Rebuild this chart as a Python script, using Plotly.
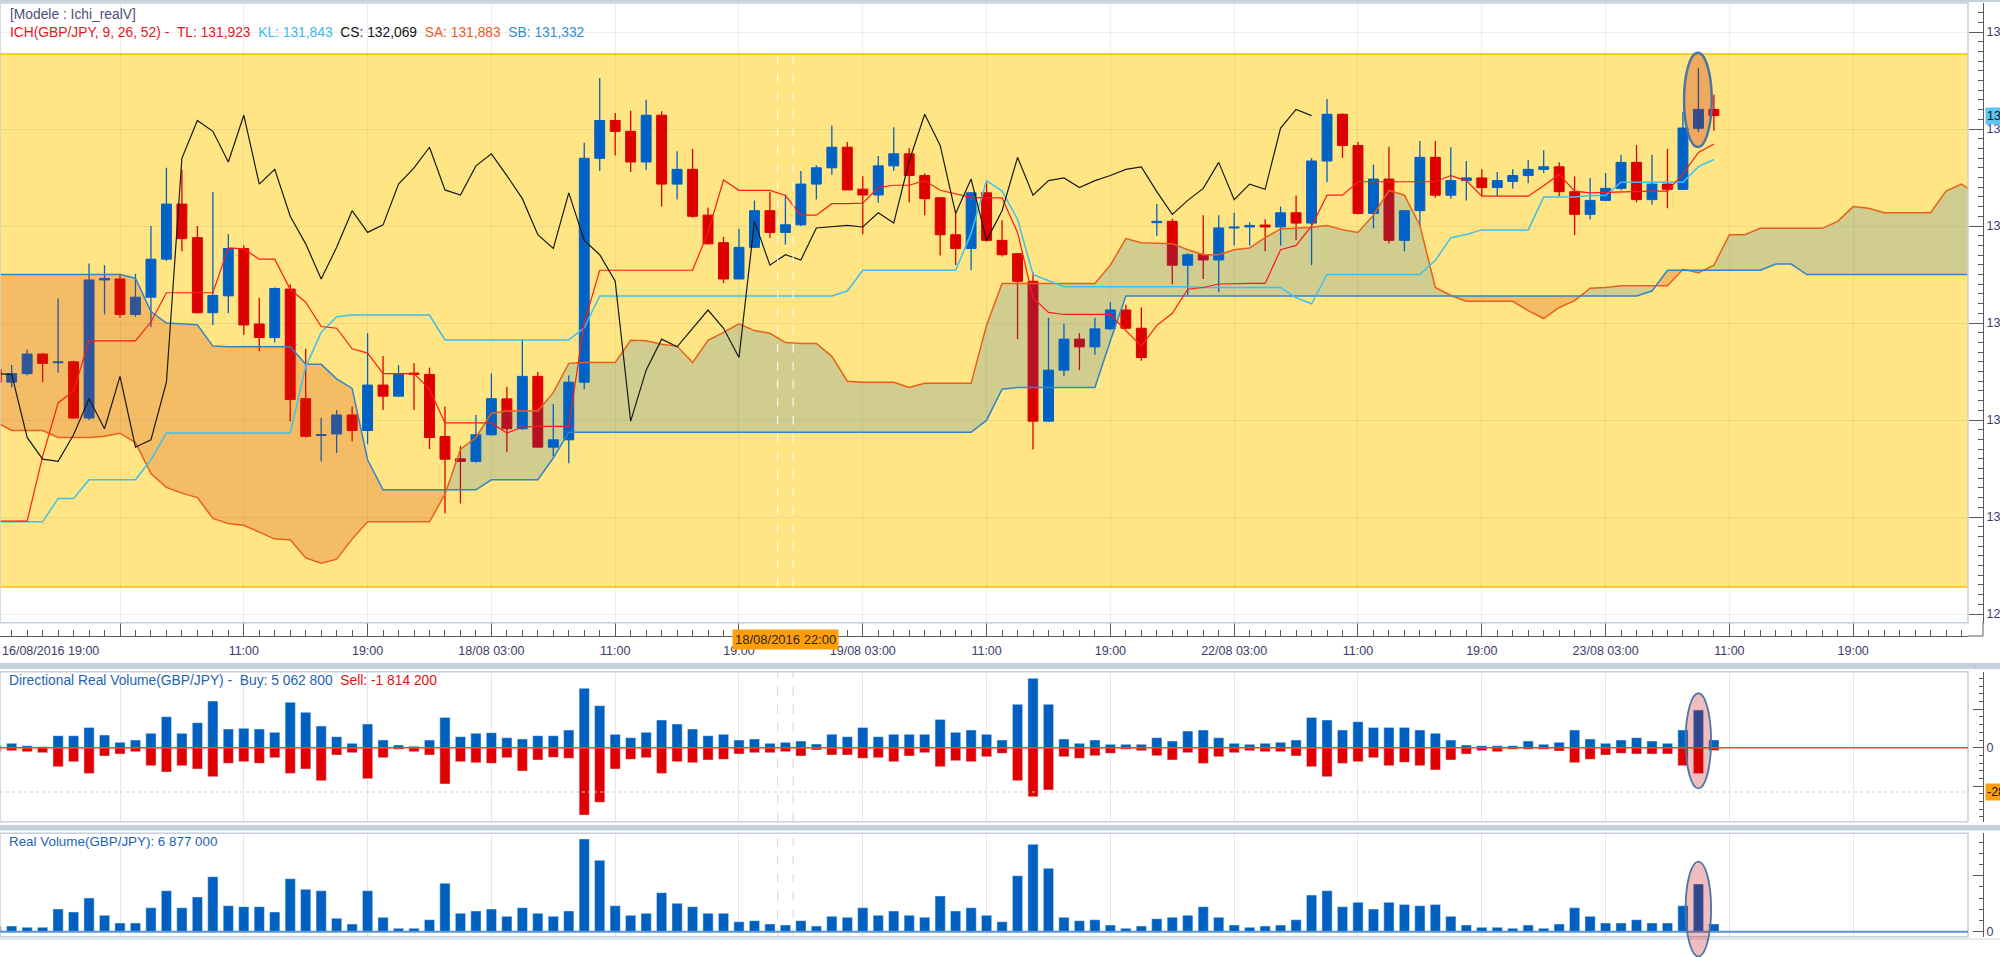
import plotly.graph_objects as go

# GBP/JPY H1 candles, 16/08/2016 19:00 -> 23/08/2016 10:00
opens = [130.760, 130.695, 130.739, 130.840, 130.795, 130.800, 130.510, 131.222, 131.227, 131.044,
         131.133, 131.329, 131.613, 131.440, 131.053, 131.140, 131.384, 130.995, 130.925, 131.175,
         130.610, 130.420, 130.428, 130.526, 130.446, 130.680, 130.623, 130.742, 130.735, 130.415,
         130.300, 130.287, 130.424, 130.609, 130.455, 130.725, 130.360, 130.398, 130.695, 131.849,
         132.044, 131.988, 131.830, 132.071, 131.716, 131.792, 131.556, 131.414, 131.227, 131.390,
         131.579, 131.467, 131.506, 131.716, 131.800, 131.906, 131.690, 131.660, 131.810, 131.872,
         131.760, 131.645, 131.455, 131.384, 131.671, 131.426, 131.357, 131.215, 130.494, 130.757,
         130.917, 130.877, 130.970, 131.067, 130.973, 131.517, 131.524, 131.298, 131.352, 131.325,
         131.490, 131.495, 131.505, 131.495, 131.568, 131.515, 131.835, 132.076, 131.915, 131.565,
         131.742, 131.426, 131.579, 131.854, 131.659, 131.734, 131.748, 131.698, 131.730, 131.760,
         131.792, 131.805, 131.677, 131.560, 131.632, 131.694, 131.828, 131.636, 131.716, 131.689,
         132.004, 132.101]
highs = [130.770, 130.783, 130.863, 130.845, 131.126, 130.805, 131.307, 131.298, 131.254, 131.254,
         131.500, 131.800, 131.790, 131.500, 131.675, 131.458, 131.400, 131.130, 131.183, 131.200,
         130.867, 130.510, 130.552, 130.570, 130.948, 130.830, 130.783, 130.792, 130.770, 130.570,
         130.366, 130.526, 130.740, 130.670, 130.917, 130.748, 130.583, 130.730, 131.929, 132.263,
         132.083, 132.094, 132.151, 132.092, 131.885, 131.897, 131.595, 131.444, 131.485, 131.632,
         131.675, 131.663, 131.783, 131.813, 132.018, 131.933, 131.757, 131.861, 132.009, 131.902,
         131.770, 131.648, 131.574, 131.675, 131.725, 131.530, 131.360, 131.263, 131.027, 130.996,
         130.948, 131.027, 131.108, 131.094, 131.080, 131.613, 131.538, 131.360, 131.556, 131.556,
         131.568, 131.520, 131.535, 131.600, 131.657, 131.850, 132.155, 132.080, 131.933, 131.817,
         131.908, 131.580, 131.938, 131.938, 131.906, 131.835, 131.792, 131.778, 131.792, 131.840,
         131.890, 131.828, 131.755, 131.748, 131.773, 131.867, 131.917, 131.867, 131.897, 132.089,
         132.316, 132.178]
lows = [130.685, 130.668, 130.730, 130.695, 130.744, 130.510, 130.500, 131.044, 131.027, 131.032,
        130.980, 131.320, 131.370, 131.050, 130.990, 131.050, 130.940, 130.854, 130.900, 130.494,
        130.410, 130.286, 130.330, 130.390, 130.375, 130.552, 130.620, 130.552, 130.350, 130.020,
        130.070, 130.280, 130.420, 130.334, 130.450, 130.358, 130.313, 130.277, 130.659, 131.783,
        131.863, 131.778, 131.787, 131.600, 131.636, 131.542, 131.405, 131.206, 131.225, 131.387,
        131.440, 131.405, 131.500, 131.636, 131.764, 131.685, 131.458, 131.620, 131.783, 131.623,
        131.556, 131.348, 131.298, 131.272, 131.420, 131.343, 130.917, 130.348, 130.490, 130.725,
        130.757, 130.837, 130.965, 130.970, 130.805, 131.450, 131.200, 131.144, 131.227, 131.160,
        131.400, 131.400, 131.370, 131.400, 131.426, 131.298, 131.725, 131.850, 131.560, 131.488,
        131.410, 131.370, 131.500, 131.645, 131.641, 131.632, 131.654, 131.654, 131.693, 131.720,
        131.773, 131.654, 131.453, 131.533, 131.630, 131.684, 131.622, 131.609, 131.591, 131.685,
        131.986, 131.991]
closes = [130.695, 130.739, 130.840, 130.792, 130.800, 130.510, 131.222, 131.230, 131.044, 131.133,
          131.329, 131.613, 131.435, 131.053, 131.142, 131.384, 130.990, 130.925, 131.178, 130.606,
          130.416, 130.425, 130.526, 130.446, 130.680, 130.623, 130.739, 130.735, 130.410, 130.298,
          130.287, 130.424, 130.610, 130.455, 130.725, 130.360, 130.398, 130.695, 131.849, 132.044,
          131.988, 131.830, 132.071, 131.716, 131.792, 131.550, 131.408, 131.227, 131.390, 131.579,
          131.467, 131.506, 131.716, 131.800, 131.906, 131.686, 131.660, 131.810, 131.872, 131.760,
          131.641, 131.455, 131.384, 131.671, 131.426, 131.352, 131.215, 130.494, 130.757, 130.917,
          130.877, 130.970, 131.067, 130.973, 130.822, 131.524, 131.298, 131.352, 131.325, 131.490,
          131.495, 131.503, 131.495, 131.568, 131.515, 131.835, 132.076, 131.915, 131.565, 131.742,
          131.426, 131.579, 131.854, 131.659, 131.734, 131.748, 131.698, 131.734, 131.760, 131.792,
          131.805, 131.677, 131.560, 131.632, 131.694, 131.828, 131.636, 131.716, 131.689, 132.005,
          132.101, 132.069]

# Ichimoku lines as drawn
tenkan = [129.979, 129.979, 129.979, 130.313, 130.588, 130.650, 130.908, 130.908, 130.908, 130.908,
          131.005, 131.156, 131.156, 131.156, 131.156, 131.387, 131.382, 131.329, 131.329, 131.174,
          131.107, 130.982, 130.973, 130.867, 130.845, 130.739, 130.739, 130.739, 130.659, 130.485,
          130.485, 130.485, 130.485, 130.433, 130.464, 130.467, 130.467, 130.467, 131.000, 131.272,
          131.272, 131.272, 131.272, 131.272, 131.272, 131.272, 131.467, 131.737, 131.684, 131.684,
          131.684, 131.657, 131.556, 131.556, 131.615, 131.615, 131.618, 131.698, 131.710, 131.710,
          131.734, 131.684, 131.666, 131.648, 131.645, 131.645, 131.467, 131.130, 131.055, 131.044,
          131.044, 131.044, 131.044, 130.961, 130.881, 130.988, 131.050, 131.174, 131.183, 131.201,
          131.204, 131.204, 131.204, 131.378, 131.400, 131.499, 131.659, 131.659, 131.728, 131.728,
          131.728, 131.728, 131.728, 131.728, 131.760, 131.734, 131.654, 131.654, 131.654, 131.654,
          131.707, 131.766, 131.680, 131.671, 131.673, 131.675, 131.680, 131.680, 131.680, 131.769,
          131.879, 131.923]
kijun = [129.975, 129.975, 129.975, 129.975, 130.096, 130.096, 130.192, 130.192, 130.192, 130.192,
         130.295, 130.433, 130.433, 130.433, 130.433, 130.433, 130.433, 130.433, 130.433, 130.433,
         130.774, 130.952, 131.032, 131.041, 131.041, 131.041, 131.041, 131.041, 131.041, 130.913,
         130.913, 130.913, 130.913, 130.913, 130.913, 130.913, 130.913, 130.913, 130.975, 131.139,
         131.139, 131.139, 131.139, 131.139, 131.139, 131.139, 131.139, 131.139, 131.139, 131.139,
         131.139, 131.139, 131.139, 131.139, 131.139, 131.165, 131.272, 131.272, 131.272, 131.272,
         131.272, 131.272, 131.272, 131.462, 131.734, 131.680, 131.535, 131.250, 131.218, 131.187,
         131.187, 131.187, 131.187, 131.187, 131.187, 131.187, 131.187, 131.187, 131.183, 131.183,
         131.183, 131.183, 131.183, 131.183, 131.130, 131.099, 131.250, 131.250, 131.250, 131.250,
         131.250, 131.250, 131.250, 131.323, 131.440, 131.456, 131.480, 131.480, 131.480, 131.480,
         131.650, 131.650, 131.650, 131.657, 131.657, 131.726, 131.726, 131.726, 131.726, 131.726,
         131.806, 131.843]
# cloud spans as displayed (already 26 bars ahead), bars 0..128
span_a = [130.490, 130.446, 130.446, 130.446, 130.410, 130.410, 130.410, 130.416, 130.432, 130.384,
          130.224, 130.153, 130.123, 130.100, 129.993, 129.966, 129.957, 129.922, 129.886, 129.883,
          129.789, 129.762, 129.783, 129.886, 129.975, 129.975, 129.975, 129.975, 129.975, 130.117,
          130.348, 130.410, 130.535, 130.547, 130.547, 130.547, 130.641, 130.792, 130.796, 130.796,
          130.796, 130.911, 130.908, 130.890, 130.881, 130.796, 130.911, 130.952, 130.996, 130.961,
          130.947, 130.899, 130.895, 130.895, 130.828, 130.700, 130.695, 130.695, 130.695, 130.668,
          130.689, 130.689, 130.689, 130.689, 130.988, 131.204, 131.204, 131.204, 131.204, 131.204,
          131.204, 131.204, 131.298, 131.435, 131.414, 131.410, 131.409, 131.378, 131.352, 131.352,
          131.378, 131.387, 131.440, 131.485, 131.488, 131.494, 131.503, 131.481, 131.467, 131.556,
          131.684, 131.659, 131.503, 131.183, 131.142, 131.112, 131.112, 131.112, 131.112, 131.064,
          131.023, 131.080, 131.115, 131.179, 131.183, 131.192, 131.192, 131.192, 131.192, 131.277,
          131.259, 131.298, 131.455, 131.455, 131.488, 131.488, 131.488, 131.488, 131.488, 131.524,
          131.600, 131.591, 131.568, 131.568, 131.568, 131.568, 131.680, 131.716, 131.664]
span_b = [131.250, 131.250, 131.250, 131.250, 131.250, 131.250, 131.250, 131.250, 131.250, 131.231,
          131.059, 131.000, 130.996, 130.991, 130.881, 130.877, 130.877, 130.877, 130.877, 130.877,
          130.787, 130.787, 130.712, 130.663, 130.295, 130.140, 130.140, 130.140, 130.140, 130.140,
          130.140, 130.140, 130.192, 130.192, 130.192, 130.192, 130.304, 130.437, 130.437, 130.437,
          130.437, 130.437, 130.437, 130.437, 130.437, 130.437, 130.437, 130.437, 130.437, 130.437,
          130.437, 130.437, 130.437, 130.437, 130.437, 130.437, 130.437, 130.437, 130.437, 130.437,
          130.437, 130.437, 130.437, 130.437, 130.499, 130.659, 130.668, 130.668, 130.668, 130.668,
          130.668, 130.668, 130.908, 131.139, 131.139, 131.139, 131.139, 131.139, 131.139, 131.139,
          131.139, 131.139, 131.139, 131.139, 131.139, 131.139, 131.139, 131.139, 131.139, 131.139,
          131.139, 131.139, 131.139, 131.139, 131.139, 131.139, 131.139, 131.139, 131.139, 131.139,
          131.139, 131.139, 131.139, 131.139, 131.139, 131.139, 131.139, 131.165, 131.272, 131.272,
          131.272, 131.272, 131.272, 131.272, 131.272, 131.304, 131.304, 131.250, 131.250, 131.250,
          131.250, 131.250, 131.250, 131.250, 131.250, 131.250, 131.250, 131.250, 131.250]

# volumes, millions
buy_vol = [1.73, 2.82, 1.30, 0.65, 7.80, 7.80, 13.2, 8.23, 3.47, 4.98,
           9.32, 20.15, 9.32, 16.25, 30.3, 12.13, 12.57, 12.13, 9.97, 29.5,
           23.0, 14.08, 7.15, 2.82, 15.4, 4.98, 1.73, 0.87, 4.98, 19.7,
           7.15, 9.32, 9.75, 6.50, 5.63, 7.80, 7.80, 11.48, 38.6, 27.3,
           8.67, 6.50, 9.97, 18.0, 15.4, 12.13, 7.80, 8.67, 4.98, 5.63,
           2.82, 3.47, 4.33, 2.38, 8.67, 7.15, 13.2, 7.15, 8.67, 8.67,
           8.67, 18.4, 9.97, 11.48, 8.67, 4.98, 28.2, 45.1, 28.2, 5.63,
           2.82, 4.98, 2.17, 2.17, 2.17, 6.50, 4.33, 10.8, 11.5, 6.50,
           2.82, 2.17, 2.82, 3.47, 4.98, 19.7, 18.0, 11.5, 16.9, 13.2,
           13.2, 13.2, 11.5, 9.32, 4.98, 1.73, 1.30, 1.30, 1.30, 4.33,
           2.17, 3.47, 11.5, 5.63, 2.82, 4.98, 6.50, 4.33, 2.82, 11.5,
           24.5, 5.06]
sell_vol = [-2.60, -1.95, -2.60, -3.25, -12.35, -9.10, -16.7, -5.42, -4.12, -2.60,
            -11.7, -15.8, -11.7, -13.87, -18.85, -10.18, -9.10, -10.18, -6.50, -16.7,
            -13.87, -21.45, -4.77, -3.25, -20.15, -6.50, -1.08, -2.60, -4.77, -23.6,
            -9.10, -9.75, -10.18, -6.50, -15.17, -8.02, -6.28, -6.93, -43.8, -35.5,
            -13.87, -7.58, -6.50, -16.7, -9.10, -9.75, -8.02, -7.58, -4.12, -3.25,
            -3.25, -2.60, -5.42, -1.52, -4.77, -4.77, -6.93, -6.50, -9.10, -5.42,
            -3.25, -12.35, -8.45, -9.10, -5.85, -3.68, -21.45, -31.9, -27.5, -5.85,
            -6.93, -5.20, -3.68, -1.08, -1.95, -5.20, -8.02, -3.25, -10.2, -5.85,
            -3.25, -1.95, -2.60, -2.60, -5.42, -12.35, -18.85, -10.2, -9.10, -6.50,
            -11.7, -9.53, -11.7, -14.5, -8.02, -4.12, -1.95, -2.60, -1.08, -1.08,
            -1.08, -2.17, -9.75, -7.58, -4.77, -3.68, -4.12, -4.12, -4.12, -11.7,
            -16.7, -1.81]
real_vol = [4.5, 5.06, 3.87, 3.87, 20.2, 17.6, 30.1, 14.6, 7.74, 7.74,
            21.4, 36.6, 21.4, 31.0, 49.1, 23.2, 22.3, 22.3, 17.6, 47.3,
            37.8, 36.6, 11.9, 6.85, 36.6, 12.8, 2.98, 2.98, 10.7, 43.2,
            16.4, 18.5, 20.2, 13.7, 21.4, 16.4, 13.7, 18.5, 82.8, 63.7,
            23.2, 14.6, 16.4, 34.8, 25.3, 22.3, 16.4, 16.4, 8.93, 9.82,
            6.85, 5.95, 9.82, 5.06, 13.7, 12.8, 21.4, 14.6, 18.5, 14.6,
            12.8, 31.9, 18.5, 21.4, 14.6, 8.93, 50.0, 78.0, 56.6, 12.8,
            9.82, 10.7, 5.95, 2.98, 5.06, 11.6, 12.8, 14.6, 22.3, 12.8,
            5.95, 3.87, 5.06, 5.95, 10.7, 32.7, 36.6, 22.3, 26.2, 20.2,
            26.2, 24.4, 23.2, 24.4, 13.7, 5.95, 3.87, 3.87, 2.98, 5.95,
            2.98, 6.85, 21.4, 13.7, 7.74, 7.74, 10.7, 7.74, 7.74, 23.2,
            42.6, 6.877]

tick_pos = [0, 8, 16, 24, 32, 40, 48, 56, 64, 72, 80, 88, 96, 104, 112, 120]
tick_text = ["", "", "11:00", "19:00", "18/08 03:00", "11:00", "19:00", "19/08 03:00",
             "11:00", "19:00", "22/08 03:00", "11:00", "19:00", "23/08 03:00", "11:00", "19:00"]

UP, DOWN = "#0062c4", "#dd0000"
FONT = "Liberation Sans, Arial, sans-serif"
W, H = 2000, 957


def fx(p):
    return p / W


def fy(p):
    return 1 - p / H


bars = list(range(len(closes)))
cloud_x = list(range(len(span_a)))

fig = go.Figure()

# wicks
for up in (True, False):
    wx, wy = [], []
    for i in bars:
        if (closes[i] >= opens[i]) == up:
            wx += [i, i, None]
            wy += [lows[i], highs[i], None]
    fig.add_trace(go.Scatter(x=wx, y=wy, mode="lines", line=dict(color=UP if up else DOWN, width=1.3),
                             hoverinfo="skip"))

body_col = [UP if c >= o else DOWN for o, c in zip(opens, closes)]
fig.add_trace(go.Bar(x=bars, y=[abs(c - o) for o, c in zip(opens, closes)],
                     base=[min(o, c) for o, c in zip(opens, closes)], width=0.64,
                     marker=dict(color=body_col, line=dict(color=body_col, width=1))))


# kumo: translucent fill split where the spans cross
def cloud_polys(xs, a, b):
    out = {True: ([], []), False: ([], [])}
    top, bot, sign = [], [], None

    def flush():
        px = [p[0] for p in top] + [p[0] for p in bot[::-1]]
        py = [p[1] for p in top] + [p[1] for p in bot[::-1]]
        out[sign][0].extend(px + [None])
        out[sign][1].extend(py + [None])

    for k in range(len(xs)):
        s = a[k] >= b[k]
        if sign is None:
            sign = s
        elif s != sign:
            d0, d1 = a[k - 1] - b[k - 1], a[k] - b[k]
            t = d0 / (d0 - d1)
            xc = xs[k - 1] + t * (xs[k] - xs[k - 1])
            yc = a[k - 1] + t * (a[k] - a[k - 1])
            top.append((xc, yc))
            bot.append((xc, yc))
            flush()
            top, bot, sign = [(xc, yc)], [(xc, yc)], s
        top.append((xs[k], a[k]))
        bot.append((xs[k], b[k]))
    flush()
    return out


polys = cloud_polys(cloud_x, span_a, span_b)
for bull, col in ((True, "rgba(0,102,202,0.18)"), (False, "rgba(208,45,0,0.22)")):
    fig.add_trace(go.Scatter(x=polys[bull][0], y=polys[bull][1], fill="toself", fillcolor=col,
                             mode="lines", line=dict(width=0), hoverinfo="skip"))

fig.add_trace(go.Scatter(x=cloud_x, y=span_a, mode="lines", line=dict(color="#e8601c", width=1.5)))
fig.add_trace(go.Scatter(x=cloud_x, y=span_b, mode="lines", line=dict(color="#2f86c6", width=1.5)))
fig.add_trace(go.Scatter(x=bars, y=kijun, mode="lines", line=dict(color="#3ec0f0", width=1.5)))
fig.add_trace(go.Scatter(x=bars, y=tenkan, mode="lines", line=dict(color="#ff1a1a", width=1.2)))
# chikou span = close plotted 26 bars back
fig.add_trace(go.Scatter(x=bars[:-26], y=closes[26:], mode="lines", line=dict(color="#1a1a1a", width=1.2)))

# volume panels
fig.add_trace(go.Bar(x=bars, y=buy_vol, width=0.66, marker_color="#0060c0", xaxis="x2", yaxis="y2"))
fig.add_trace(go.Bar(x=bars, y=sell_vol, width=0.66, marker_color="#e00000", xaxis="x2", yaxis="y2"))
fig.add_trace(go.Bar(x=bars, y=real_vol, width=0.66, marker_color="#0060c0", xaxis="x3", yaxis="y3"))

x_range = [0.2456, 127.42]
x_dom = [0, fx(1968)]
grid = "rgba(150,150,150,0.16)"
axcol = "#5a5a5a"
lab = dict(family=FONT, size=12.5, color="#3b3b6b")

fig.update_layout(
    width=W, height=H, margin=dict(l=0, r=0, t=0, b=0, autoexpand=False),
    paper_bgcolor="white", plot_bgcolor="white", showlegend=False,
    barmode="overlay", separators=", ", font=dict(family=FONT, size=12),
    xaxis=dict(domain=x_dom, range=x_range, anchor="free", position=fy(636), automargin=False,
               tickmode="array", tickvals=tick_pos, ticktext=tick_text, ticks="inside", ticklen=13,
               tickcolor=axcol, showline=True, linecolor=axcol, showgrid=True, gridcolor=grid,
               zeroline=False, tickfont=lab, ticklabelstandoff=3,
               minor=dict(tickmode="linear", tick0=0, dtick=1, ticks="inside", ticklen=6,
                          tickcolor=axcol, showgrid=False)),
    yaxis=dict(domain=[fy(622.7), fy(3)], range=[129.4552, 132.6495], anchor="free", position=fx(1983),
               automargin=False, side="right", tickmode="linear", tick0=129.5, dtick=0.5,
               tickformat=".3f", ticks="inside", ticklen=14, tickcolor=axcol, showline=True,
               linecolor=axcol, showgrid=True, gridcolor=grid, zeroline=False, tickfont=lab,
               minor=dict(tick0=129.5, dtick=0.05, ticks="inside", ticklen=5, tickcolor=axcol,
                          showgrid=False)),
    xaxis2=dict(domain=x_dom, range=x_range, anchor="y2", automargin=False, tickmode="array",
                tickvals=tick_pos, showticklabels=False, ticks="", showgrid=True, gridcolor="#e4e7eb",
                zeroline=False),
    yaxis2=dict(domain=[fy(821.7), fy(671.7)], range=[-48.1, 49.4], anchor="free", position=fx(1983),
                automargin=False, side="right", tickmode="array", tickvals=[-25, 0, 25],
                ticktext=["", "0", ""], ticks="inside", ticklen=10, tickcolor=axcol, showline=True,
                linecolor=axcol, showgrid=False, zeroline=False, tickfont=lab,
                minor=dict(tick0=0, dtick=5, ticks="inside", ticklen=4, tickcolor=axcol)),
    xaxis3=dict(domain=x_dom, range=x_range, anchor="y3", automargin=False, tickmode="array",
                tickvals=tick_pos, showticklabels=False, ticks="", showgrid=True, gridcolor="#e4e7eb",
                zeroline=False),
    yaxis3=dict(domain=[fy(936.7), fy(833.3)], range=[-4.465, 87.87], anchor="free", position=fx(1983),
                automargin=False, side="right", tickmode="array", tickvals=[0, 50], ticktext=["0", ""],
                ticks="inside", ticklen=10, tickcolor=axcol, showline=True, linecolor=axcol,
                showgrid=False, zeroline=False, tickfont=lab,
                minor=dict(tick0=0, dtick=10, ticks="inside", ticklen=4, tickcolor=axcol)),
)

frame = "#c6d0db"
shapes = [
    # user drawn yellow zone
    dict(type="rect", xref="x domain", yref="y", x0=0, x1=1, y0=129.639, y1=132.387,
         fillcolor="#ffe583", line=dict(width=0), layer="below"),
    dict(type="line", xref="x domain", yref="y", x0=0, x1=1, y0=132.387, y1=132.387,
         line=dict(color="#f5c000", width=1.5), layer="below"),
    dict(type="line", xref="x domain", yref="y", x0=0, x1=1, y0=129.639, y1=129.639,
         line=dict(color="#f5c000", width=1.5), layer="below"),
    # cursor column
    dict(type="line", xref="x", yref="y domain", x0=50.5, x1=50.5, y0=0, y1=1,
         line=dict(color="white", width=1, dash="dash")),
    dict(type="line", xref="x", yref="y domain", x0=51.5, x1=51.5, y0=0, y1=1,
         line=dict(color="white", width=1, dash="dash")),
    # frames
    dict(type="rect", xref="x domain", yref="y domain", x0=0, x1=1, y0=0, y1=1,
         line=dict(color=frame, width=1.5)),
    dict(type="rect", xref="x2 domain", yref="y2 domain", x0=0, x1=1, y0=0, y1=1,
         line=dict(color=frame, width=1.5)),
    dict(type="rect", xref="x3 domain", yref="y3 domain", x0=0, x1=1, y0=0, y1=1,
         line=dict(color=frame, width=1.5)),
    dict(type="line", xref="paper", yref="paper", x0=fx(1968), x1=fx(1983), y0=fy(636), y1=fy(636),
         line=dict(color=axcol, width=1)),
    dict(type="line", xref="paper", yref="paper", x0=fx(1983), x1=fx(1983), y0=fy(636), y1=fy(622),
         line=dict(color=axcol, width=1)),
    dict(type="line", xref="paper", yref="paper", x0=0, x1=1, y0=fy(1), y1=fy(1),
         line=dict(color=frame, width=2)),
    # panel separators
    dict(type="rect", xref="paper", yref="paper", x0=0, x1=1, y0=fy(669), y1=fy(663),
         fillcolor="#c6d0dc", line=dict(width=0)),
    dict(type="rect", xref="paper", yref="paper", x0=0, x1=1, y0=fy(830.5), y1=fy(825),
         fillcolor="#c6d0dc", line=dict(width=0)),
    dict(type="line", xref="paper", yref="paper", x0=0, x1=1, y0=fy(939), y1=fy(939),
         line=dict(color="#dfe4ea", width=1.5)),
    # directional volume zero + crosshair
    dict(type="line", xref="x2 domain", yref="y2", x0=0, x1=1, y0=0, y1=0,
         line=dict(color="#ff3b3b", width=1.5)),
    dict(type="line", xref="x2 domain", yref="y2", x0=0, x1=1, y0=-28.8, y1=-28.8,
         line=dict(color="#cfcfcf", width=1, dash="dot")),
    dict(type="line", xref="x3 domain", yref="y3", x0=0, x1=1, y0=0, y1=0,
         line=dict(color="#5b95d6", width=2)),
]
for ax, ay in (("x2", "y2"), ("x3", "y3")):
    for xv in (50.5, 51.5):
        shapes.append(dict(type="line", xref=ax, yref=ay + " domain", x0=xv, x1=xv, y0=0, y1=1,
                           line=dict(color="#d4d4d4", width=1, dash="dash"), layer="below"))
# highlight ellipses around the 23/08 09:00 bar
ell_line = dict(color="#4a76a6", width=2.5)
shapes += [
    dict(type="circle", xref="x", yref="y", x0=109.07, x1=110.86, y0=131.907, y1=132.393,
         fillcolor="rgba(195,10,0,0.27)", line=ell_line),
    dict(type="circle", xref="x2", yref="y2", x0=109.17, x1=110.82, y0=-26.4, y1=35.4,
         fillcolor="rgba(195,0,0,0.26)", line=dict(color="#4a76a6", width=1.8)),
    dict(type="circle", xref="x3", yref="paper", x0=109.17, x1=110.82, y0=fy(956.5), y1=fy(861.7),
         fillcolor="rgba(195,0,0,0.26)", line=dict(color="#4a76a6", width=1.8)),
]
fig.update_layout(shapes=shapes)

nb = "\u00a0"
ich = ("<span style='color:#e8161b'>ICH(GBP/JPY, 9, 26, 52) -" + nb * 2 + "TL: 131,923</span>" + nb * 2
       + "<span style='color:#3cb8ee'>KL: 131,843</span>" + nb * 2
       + "<span style='color:#111111'>CS: 132,069</span>" + nb * 2
       + "<span style='color:#f0581e'>SA: 131,883</span>" + nb * 2
       + "<span style='color:#2c8fd0'>SB: 131,332</span>")
drv = ("<span style='color:#1e64b4'>Directional Real Volume(GBP/JPY) -" + nb * 2 + "Buy: 5 062 800</span>"
       + nb * 2 + "<span style='color:#e01010'>Sell: -1 814 200</span>")
ann = [
    dict(x=fx(8), y=fy(14), text="[Modele : Ichi_realV]", font=dict(color="#4d4d7a", size=13.8)),
    dict(x=fx(8), y=fy(33), text=ich, font=dict(size=13.8)),
    dict(x=fx(7), y=fy(680), text=drv, font=dict(size=13.8)),
    dict(x=fx(7), y=fy(841), text="Real Volume(GBP/JPY): 6 877 000", font=dict(color="#1e64b4", size=13.4)),
    dict(x=fx(0), y=fy(651), text="16/08/2016 19:00", font=dict(lab)),
]
for a in ann:
    a.update(xref="paper", yref="paper", xanchor="left", yanchor="middle", showarrow=False)
    a["font"].setdefault("family", FONT)
ann += [
    dict(x=51, xref="x", y=fy(650), yref="paper", text="18/08/2016 22:00", showarrow=False,
         bgcolor="#ff9d0a", borderpad=2, font=dict(family=FONT, size=13, color="#2a2a2a")),
    dict(x=fx(1985), xref="paper", y=132.069, yref="y", xanchor="left", text="132,069", showarrow=False,
         bgcolor="#5cc6f2", borderpad=1, font=dict(family=FONT, size=12.5, color="#111111")),
    dict(x=fx(1985), xref="paper", y=-28.8, yref="y2", xanchor="left", text="-28 800 000", showarrow=False,
         bgcolor="#ff9d0a", borderpad=1, font=dict(family=FONT, size=12.5, color="#111111")),
]
fig.update_layout(annotations=ann)

# the page has no body margin in the reference screenshot
fig.write_html("out.html", config={"displayModeBar": False},
               post_script="document.body.style.margin='0px';document.documentElement.style.overflow='hidden';")
